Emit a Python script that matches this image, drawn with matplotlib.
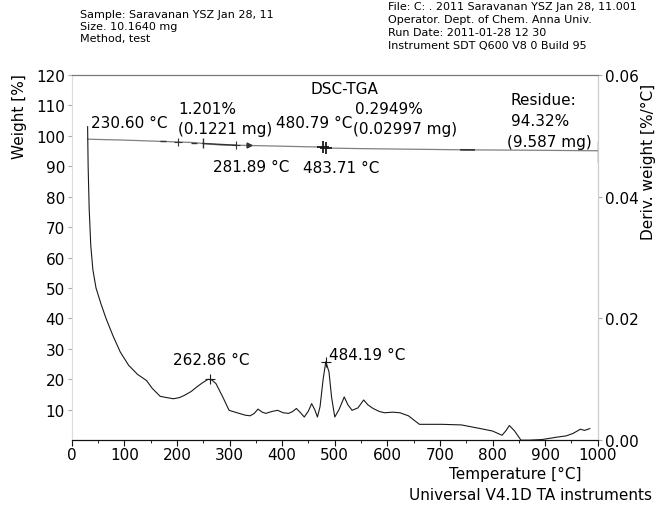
import numpy as np
import matplotlib.pyplot as plt

plt.rcParams['font.family'] = ['DejaVu Sans']

# weight curve (left axis, %)
temp_w = [30, 100, 150, 200, 230.6, 255, 281.9, 320, 400, 450, 480.8, 483.7, 550, 650, 750, 850, 1000]
weight = [98.9, 98.6, 98.3, 98.0, 97.8, 97.4, 97.0, 96.9, 96.6, 96.4, 96.3, 96.0, 95.8, 95.6, 95.4, 95.3, 95.1]

# derivative curve (right axis, %/°C)
temp_d = [30, 31, 33, 36, 40, 46, 55, 65, 78, 92, 108, 125, 142, 153, 168, 180, 193, 205, 215,
          227, 237, 248, 259, 266, 274, 287, 299, 318, 330, 339, 347, 354, 362, 369, 380, 391, 402,
          412, 420, 427, 435, 442, 450, 456, 462, 467, 472, 478, 483, 489, 494, 500, 508, 518, 525,
          533, 544, 555, 563, 573, 585, 595, 610, 624, 640, 661, 680, 704, 741, 777, 800, 818, 825,
          832, 842, 854, 870, 894, 923, 940, 953, 967, 975, 985]
deriv = [0.0515, 0.045, 0.038, 0.032, 0.028, 0.025, 0.0225, 0.0200, 0.0172, 0.0145, 0.0123, 0.0108,
         0.0098, 0.0085, 0.0072, 0.0070, 0.0068, 0.0070, 0.0074, 0.0080, 0.0087, 0.0094, 0.0100,
         0.0099, 0.0093, 0.0071, 0.0049, 0.0044, 0.0041, 0.0040, 0.0044, 0.0051, 0.0046, 0.0044, 0.0047,
         0.0049, 0.0045, 0.0044, 0.0047, 0.0052, 0.0045, 0.0038, 0.0048, 0.0060, 0.0050, 0.0038, 0.0055,
         0.0101, 0.0129, 0.0112, 0.0070, 0.0038, 0.0050, 0.0071, 0.0058, 0.0049, 0.0053, 0.0066, 0.0058,
         0.0052, 0.0047, 0.0045, 0.0046, 0.0045, 0.0040, 0.0026, 0.0026, 0.0026, 0.0025, 0.0019, 0.0015,
         0.0008, 0.0015, 0.0024, 0.0015, 0.0000, 0.0000, 0.0001, 0.0005, 0.0007, 0.0011, 0.0018, 0.0016,
         0.0019]

# step analysis marks on the weight line and DTG peaks
cross_t = [202, 312]
dash_t = [174, 233]
bar_t = [249]
arrow_t = [336]
big_cross_t = [478, 484]
peak_t = [262.86, 484.19]
peak_v = [0.0100, 0.0129]

fig = plt.figure(figsize=(6.59, 5.10), dpi=100)
ax = fig.add_axes([0.109, 0.135, 0.798, 0.716])
ax2 = ax.twinx()

ax.plot(temp_w, weight, color='#808080', lw=0.9)
ax2.plot(temp_d, deriv, color='#1a1a1a', lw=0.8)

def on_line(t):
    return np.interp(t, temp_w, weight)

mk = dict(ls='none', color='#333333')
ax.plot(cross_t, on_line(cross_t), marker='+', ms=6, mew=0.8, **mk)
ax.plot(dash_t, on_line(dash_t), marker='_', ms=5, mew=1.0, **mk)
ax.plot(bar_t, on_line(bar_t), marker='|', ms=7, mew=1.0, **mk)
ax.plot(arrow_t, on_line(arrow_t), marker='>', ms=3.5, **mk)
ax.plot(big_cross_t, on_line(big_cross_t), marker='+', ms=8, mew=1.3, ls='none', color='#1a1a1a')
ax.plot([249, 312], on_line([249, 312]), color='#333333', lw=1.0)
ax.plot([740, 765], on_line([740, 765]), color='#333333', lw=1.2)
ax.plot([1000, 1000], [98.0, 91.5], color='#555555', lw=1.0)

ax2.plot(peak_t, peak_v, ls='none', marker='+', color='#1a1a1a', ms=7, mew=0.8)

fs = 11
ax.text(519, 115.5, 'DSC-TGA', ha='center', va='center', fontsize=fs)
ax.text(37, 104.5, '230.60 °C', ha='left', va='center', fontsize=fs)
ax.text(203, 109.0, '1.201%', ha='left', va='center', fontsize=fs)
ax.text(201, 102.3, '(0.1221 mg)', ha='left', va='center', fontsize=fs)
ax.text(533, 104.5, '480.79 °C', ha='right', va='center', fontsize=fs)
ax.text(538, 109.0, '0.2949%', ha='left', va='center', fontsize=fs)
ax.text(535, 102.3, '(0.02997 mg)', ha='left', va='center', fontsize=fs)
ax.text(268, 89.8, '281.89 °C', ha='left', va='center', fontsize=fs)
ax.text(440, 89.5, '483.71 °C', ha='left', va='center', fontsize=fs)
ax.text(835, 112.0, 'Residue:', ha='left', va='center', fontsize=fs)
ax.text(835, 105.0, '94.32%', ha='left', va='center', fontsize=fs)
ax.text(828, 98.0, '(9.587 mg)', ha='left', va='center', fontsize=fs)
ax2.text(265, 0.0133, '262.86 °C', ha='center', va='center', fontsize=fs)
ax2.text(489, 0.0141, '484.19 °C', ha='left', va='center', fontsize=fs)

ax.set_xlim(0, 1000)
ax.set_ylim(0, 120)
ax2.set_ylim(0, 0.06)
ax.set_xticks(np.arange(0, 1001, 100))
ax.set_xticks(np.arange(50, 1000, 100), minor=True)
ax.set_yticks(np.arange(10, 121, 10))
ax2.set_yticks([0.0, 0.02, 0.04, 0.06])
ax2.set_yticklabels(['0.00', '0.02', '0.04', '0.06'])

for a in (ax, ax2):
    a.spines['top'].set_color('#777777')
    a.spines['bottom'].set_color('#111111')
    a.spines['left'].set_color('#dddddd')
    a.spines['right'].set_color('#cccccc')
ax.tick_params(axis='x', direction='out', length=4, width=0.8, labelsize=fs, color='#111111', pad=1)
ax.tick_params(axis='x', which='minor', direction='out', length=2.5, width=0.6)
ax.tick_params(axis='y', direction='out', length=3, width=0.8, labelsize=fs, color='#aaaaaa', pad=2)
ax2.tick_params(axis='y', direction='out', length=3, width=0.8, labelsize=fs, color='#aaaaaa', pad=2)

fig.text(20 / 659, 1 - 117 / 510, 'Weight [%]', rotation=90, ha='center', va='center', fontsize=fs)
fig.text(648 / 659, 1 - 162 / 510, 'Deriv. weight [%/°C]', rotation=90, ha='center', va='center', fontsize=fs)
fig.text(515 / 659, 1 - 474 / 510, 'Temperature [°C]', ha='center', va='center', fontsize=fs)
fig.text(652 / 659, 1 - 496 / 510, 'Universal V4.1D TA instruments', ha='right', va='center', fontsize=fs)

hs = 8
fig.text(80 / 659, 1 - 15 / 510, 'Sample: Saravanan YSZ Jan 28, 11', ha='left', va='center', fontsize=hs)
fig.text(80 / 659, 1 - 27 / 510, 'Size. 10.1640 mg', ha='left', va='center', fontsize=hs)
fig.text(80 / 659, 1 - 39 / 510, 'Method, test', ha='left', va='center', fontsize=hs)
fig.text(388 / 659, 1 - 7 / 510, 'File: C: . 2011 Saravanan YSZ Jan 28, 11.001', ha='left', va='center', fontsize=hs)
fig.text(388 / 659, 1 - 20 / 510, 'Operator. Dept. of Chem. Anna Univ.', ha='left', va='center', fontsize=hs)
fig.text(388 / 659, 1 - 33 / 510, 'Run Date: 2011-01-28 12 30', ha='left', va='center', fontsize=hs)
fig.text(388 / 659, 1 - 46 / 510, 'Instrument SDT Q600 V8 0 Build 95', ha='left', va='center', fontsize=hs)

fig.savefig('out.png', dpi=100)
